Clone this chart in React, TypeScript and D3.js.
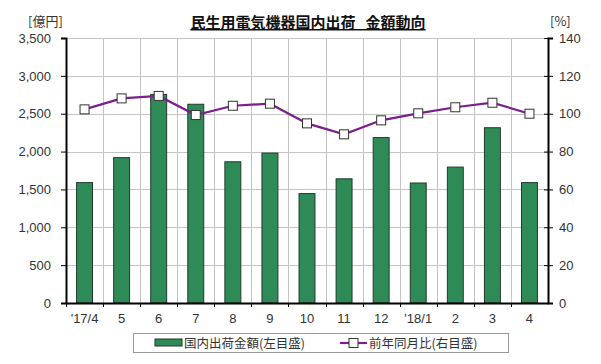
import React, { useEffect, useRef } from "react";
import * as d3 from "d3";

const months = ["'17/4", "5", "6", "7", "8", "9", "10", "11", "12", "'18/1", "2", "3", "4"];
const shipments = [1590, 1920, 2755, 2625, 1865, 1980, 1445, 1640, 2185, 1585, 1795, 2315, 1590];
const yoyRatio = [102.3, 108.1, 109.4, 99.3, 104.2, 105.3, 94.9, 89.1, 96.5, 100.2, 103.4, 105.8, 100.0];
const leftTicks = [0, 500, 1000, 1500, 2000, 2500, 3000, 3500];
const rightTicks = [0, 20, 40, 60, 80, 100, 120, 140];

const W = 601;
const H = 364;
const FONT = "'Liberation Sans', 'Noto Sans CJK JP', sans-serif";
const JP = "'Noto Sans CJK JP', sans-serif";

const App = () => {
  const ref = useRef<SVGSVGElement>(null);

  useEffect(() => {
    const svg = d3.select(ref.current);
    svg.selectAll("*").remove();

    const plot = { left: 66, right: 548, top: 38, bottom: 303 };

    // frame
    svg.append("rect").attr("x", 0).attr("y", 0).attr("width", W).attr("height", H).attr("fill", "#fff");
    svg.append("rect").attr("x", 3.5).attr("y", 3.5).attr("width", 591).attr("height", 356)
      .attr("fill", "#fff").attr("stroke", "#666").attr("stroke-width", 1.3);
    svg.append("line").attr("x1", 3).attr("x2", 595.5).attr("y1", 360).attr("y2", 360)
      .attr("stroke", "#444").attr("stroke-width", 2.5);
    svg.append("line").attr("x1", 595).attr("x2", 595).attr("y1", 3).attr("y2", 361)
      .attr("stroke", "#555").attr("stroke-width", 1.8);

    const x = d3.scaleBand().domain(months).range([plot.left, plot.right]).paddingInner(0.57).paddingOuter(0.285);
    const step = (plot.right - plot.left) / months.length;
    const yL = d3.scaleLinear().domain([0, 3500]).range([plot.bottom, plot.top]);
    const yR = d3.scaleLinear().domain([0, 140]).range([plot.bottom, plot.top]);

    // gridlines
    const grid = svg.append("g").attr("stroke", "#c4c4c4").attr("stroke-width", 1);
    leftTicks.forEach((t) => {
      if (t === 0) return;
      grid.append("line").attr("x1", plot.left).attr("x2", plot.right)
        .attr("y1", Math.round(yL(t)) + 0.5).attr("y2", Math.round(yL(t)) + 0.5);
    });
    months.forEach((_, i) => {
      if (i === 0) return;
      const gx = Math.round(plot.left + step * i) + 0.5;
      grid.append("line").attr("x1", gx).attr("x2", gx).attr("y1", plot.top).attr("y2", plot.bottom);
    });

    // bars
    svg.append("g").selectAll("rect").data(shipments).enter().append("rect")
      .attr("x", (_, i) => x(months[i]) as number)
      .attr("y", (d) => yL(d))
      .attr("width", x.bandwidth())
      .attr("height", (d) => plot.bottom - yL(d))
      .attr("fill", "#2e8b57")
      .attr("stroke", "#1f3b2a")
      .attr("stroke-width", 1);

    // axes
    const leftAxis = d3.axisLeft(yL).tickValues(leftTicks).tickSize(5).tickPadding(10)
      .tickFormat((d) => d3.format(",")(d as number));
    const gl = svg.append("g").attr("transform", `translate(${plot.left},0)`).call(leftAxis);
    gl.select(".domain").attr("stroke", "#000").attr("stroke-width", 2);
    gl.selectAll("text").attr("font-family", FONT).attr("font-size", 13).attr("fill", "#333");

    const rightAxis = d3.axisRight(yR).tickValues(rightTicks).tickSize(5).tickPadding(6);
    const gr = svg.append("g").attr("transform", `translate(${plot.right},0)`).call(rightAxis);
    gr.select(".domain").attr("stroke", "#000").attr("stroke-width", 2);
    gr.selectAll(".tick line").attr("x1", -4);
    gr.selectAll("text").attr("font-family", FONT).attr("font-size", 13).attr("fill", "#333");

    const bottomAxis = d3.axisBottom(x).tickSize(0).tickPadding(11);
    const gb = svg.append("g").attr("transform", `translate(0,${plot.bottom})`).call(bottomAxis);
    gb.select(".domain").attr("stroke", "#000").attr("stroke-width", 2);
    gb.selectAll("text").attr("font-family", FONT).attr("font-size", 13).attr("fill", "#333");
    months.forEach((_, i) => {
      const gx = Math.round(plot.left + step * i) + 0.5;
      gb.append("line").attr("x1", gx).attr("x2", gx).attr("y1", 0).attr("y2", 4).attr("stroke", "#000");
    });

    // line
    const cx = (i: number) => (x(months[i]) as number) + x.bandwidth() / 2;
    const line = d3.line<number>().x((_, i) => cx(i)).y((d) => yR(d));
    svg.append("path").datum(yoyRatio).attr("d", line)
      .attr("fill", "none").attr("stroke", "#7a1f8c").attr("stroke-width", 2.2);
    svg.append("g").selectAll("rect").data(yoyRatio).enter().append("rect")
      .attr("x", (_, i) => cx(i) - 4.5)
      .attr("y", (d) => yR(d) - 4.5)
      .attr("width", 9).attr("height", 9)
      .attr("fill", "#fff").attr("stroke", "#333").attr("stroke-width", 1);

    // title and units
    svg.append("text").attr("x", 308).attr("y", 28).attr("text-anchor", "middle")
      .attr("font-family", JP).attr("font-size", 15).attr("font-weight", "bold")
      .attr("text-decoration", "underline").attr("fill", "#111")
      .text("民生用電気機器国内出荷\u00a0\u00a0\u00a0金額動向");
    svg.append("text").attr("x", 28).attr("y", 26).attr("font-family", JP).attr("font-size", 13)
      .attr("fill", "#333").text("[億円]");
    svg.append("text").attr("x", 550).attr("y", 26).attr("font-family", JP).attr("font-size", 13)
      .attr("fill", "#333").text("[%]");

    // legend
    const lg = svg.append("g");
    lg.append("rect").attr("x", 133.5).attr("y", 333.5).attr("width", 375).attr("height", 19)
      .attr("fill", "#fff").attr("stroke", "#999");
    lg.append("rect").attr("x", 155).attr("y", 339).attr("width", 27).attr("height", 7)
      .attr("fill", "#2e8b57").attr("stroke", "#1f3b2a");
    lg.append("text").attr("x", 184).attr("y", 348).attr("font-family", JP).attr("font-size", 12.5)
      .attr("fill", "#333").text("国内出荷金額(左目盛)");
    lg.append("line").attr("x1", 340).attr("x2", 367).attr("y1", 343).attr("y2", 343)
      .attr("stroke", "#7a1f8c").attr("stroke-width", 2.2);
    lg.append("rect").attr("x", 349).attr("y", 338.5).attr("width", 9).attr("height", 9)
      .attr("fill", "#fff").attr("stroke", "#333");
    lg.append("text").attr("x", 369).attr("y", 348).attr("font-family", JP).attr("font-size", 12.5)
      .attr("fill", "#333").text("前年同月比(右目盛)");
  }, []);

  return (
    <div style={{ margin: -8 }}>
      <svg ref={ref} width={W} height={H} style={{ display: "block" }} />
    </div>
  );
};

export default App;
